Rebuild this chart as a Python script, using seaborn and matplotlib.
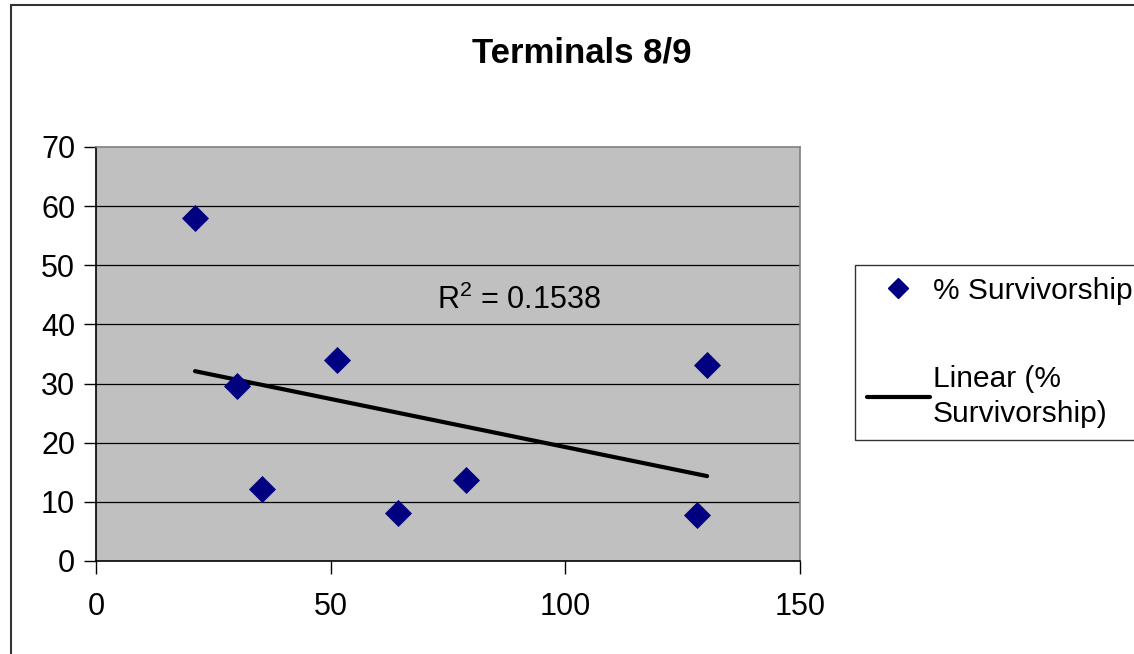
import numpy as np
import pandas as pd
import matplotlib
matplotlib.use("Agg")
import matplotlib.pyplot as plt
import seaborn as sns
from matplotlib.patches import Rectangle
from matplotlib.lines import Line2D

# Data
terminals = [21.1, 30.0, 35.4, 51.4, 64.4, 78.8, 128.1, 130.2]
survivorship = [58.0, 29.6, 12.2, 34.0, 8.1, 13.7, 7.8, 33.1]
x_ticks = [0, 50, 100, 150]
y_ticks = [0, 10, 20, 30, 40, 50, 60, 70]
title = "Terminals 8/9"
r2_label = "R$^2$ = 0.1538"
series_label = "% Survivorship"
trend_label = "Linear (%\nSurvivorship)"

df = pd.DataFrame({"x": terminals, "y": survivorship})

sns.set_theme(style="white")
plt.rcParams["font.family"] = ["Liberation Sans", "DejaVu Sans"]
plt.rcParams["text.color"] = "black"
plt.rcParams["xtick.color"] = "black"
plt.rcParams["ytick.color"] = "black"
plt.rcParams["mathtext.fontset"] = "custom"
plt.rcParams["mathtext.rm"] = "Liberation Sans"

fig = plt.figure(figsize=(11.34, 6.54), dpi=100)
ax = fig.add_axes([96 / 1134, 1 - 561 / 654, (800 - 96) / 1134, (561 - 147) / 654])
ax.set_facecolor("#C0C0C0")

# grid lines
for yv in y_ticks[1:-1]:
    ax.axhline(yv, color="black", lw=0.9, zorder=1)

sns.regplot(data=df, x="x", y="y", scatter=False, ci=None, ax=ax,
            line_kws={"color": "black", "lw": 3.0, "zorder": 3})
sns.scatterplot(data=df, x="x", y="y", marker="D", s=190, color="#000080",
                edgecolor="#000080", linewidth=0, ax=ax, zorder=4)

ax.set_xlim(0, 150)
ax.set_ylim(0, 70)
ax.set_xticks(x_ticks)
ax.set_yticks(y_ticks)
ax.set_xlabel("")
ax.set_ylabel("")
ax.tick_params(axis="both", which="both", direction="out", length=9, width=1,
               color="black", labelcolor="black", labelsize=22, pad=6,
               left=True, bottom=True)
ax.tick_params(axis="x", pad=13)
for side in ["left", "bottom"]:
    ax.spines[side].set_color("black")
    ax.spines[side].set_linewidth(1.2)
for side in ["top", "right"]:
    ax.spines[side].set_color("#808080")
    ax.spines[side].set_linewidth(1.2)

ax.text(72.7, 44.1, r2_label, fontsize=22, va="center", ha="left", color="black")

fig.text(582 / 1134, 1 - 53 / 654, title, fontsize=25, fontweight="bold",
         ha="center", va="center", color="black")

handles = [
    Line2D([], [], marker="D", color="#000080", linestyle="none", markersize=10),
    Line2D([], [], color="black", lw=3),
]
leg = fig.legend(handles, [series_label, trend_label], loc="upper left",
                 bbox_to_anchor=(855 / 1134, 1 - 265 / 654), fontsize=21.5,
                 frameon=True, fancybox=False, edgecolor="black",
                 handlelength=2.1, handletextpad=0.1, labelspacing=2.0,
                 borderpad=0.4, borderaxespad=0)
leg.get_frame().set_linewidth(1.0)
for t in leg.get_texts():
    t.set_color("black")
    t.set_linespacing(1.35)

# outer chart border
fig.patches.append(Rectangle((11 / 1134, -0.05), 1.2, 1 - 5 / 654 + 0.05,
                             transform=fig.transFigure, fill=False,
                             edgecolor="#333333", lw=1.5))

fig.savefig("out.png", dpi=100)
